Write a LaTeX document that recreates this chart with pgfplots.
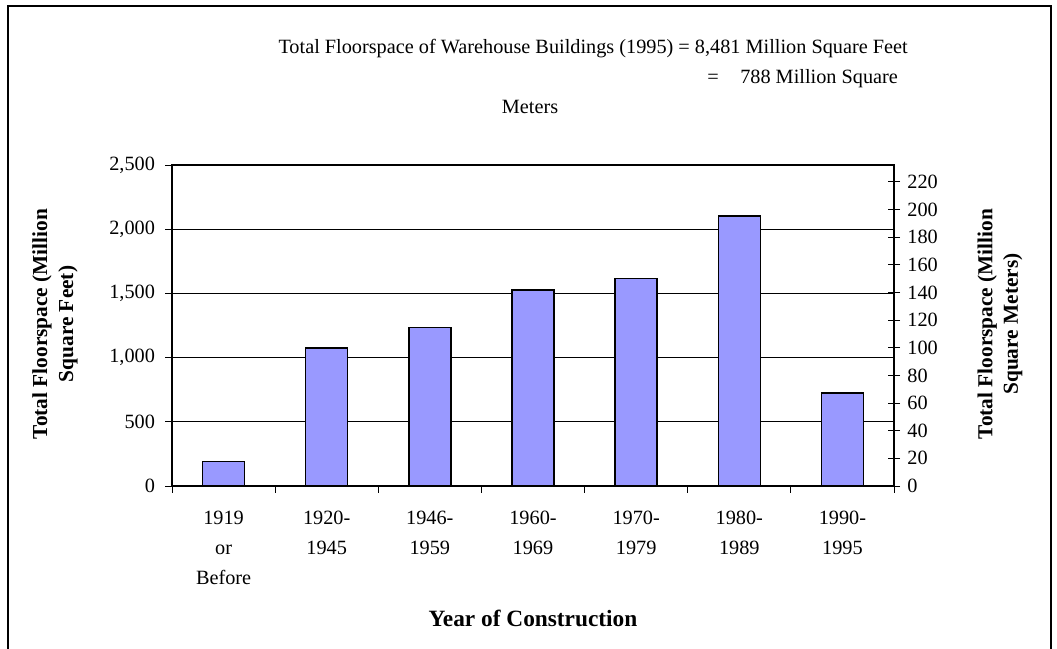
\documentclass[border=0pt]{standalone}
\usepackage{pgfplots}
\pgfplotsset{compat=1.18}
\usepackage{fontspec}
\setmainfont{Liberation Serif}
\definecolor{barblue}{HTML}{9999FF}
\begin{document}
\begin{tikzpicture}
\begin{scope}[x=0.75pt,y=0.75pt]
\useasboundingbox (0,0) rectangle (1057,649);
\draw[line width=0.9pt] (8,-10)--(8,643)--(1051,643)--(1051,-10);
\node[anchor=base east, font=\fontsize{15.2}{18}\selectfont, inner sep=0pt] at (908,595) {Total Floorspace of Warehouse Buildings (1995) = 8,481 Million Square Feet};
\node[anchor=base west, font=\fontsize{15.2}{18}\selectfont, inner sep=0pt] at (707,565) {=};
\node[anchor=base west, font=\fontsize{15.2}{18}\selectfont, inner sep=0pt] at (740,565) {788 Million Square};
\node[anchor=base, font=\fontsize{15.2}{18}\selectfont, inner sep=0pt] at (530,535) {Meters};
\node[rotate=90, align=center, font=\bfseries\fontsize{16}{19.5}\selectfont] at (55,325) {Total Floorspace (Million\\Square Feet)};
\node[rotate=90, align=center, font=\bfseries\fontsize{16}{19}\selectfont] at (1000,325) {Total Floorspace (Million\\Square Meters)};
\node[anchor=base, font=\bfseries\fontsize{17.5}{20}\selectfont] at (533,22) {Year of Construction};
\coordinate (O) at (172,163);
\end{scope}
\begin{axis}[at={(O)}, anchor=south west, scale only axis,
  width=541.5pt, height=240.75pt,
  ymin=0, ymax=2500, ytick={0,500,...,2500},
  xmin=-0.5, xmax=6.5,
  xtick={0,...,6},
  xticklabels={{1919\\or\\Before},{1920-\\1945},{1946-\\1959},{1960-\\1969},{1970-\\1979},{1980-\\1989},{1990-\\1995}},
  minor xtick={-0.5,0.5,...,6.5},
  major x tick style={draw=none},
  tick align=outside, major tick length=5.25pt, minor tick length=5.25pt,
  ymajorgrids, grid style={black, line width=0.6pt},
  axis line style={line width=0.8pt},
  tick style={black, line width=0.7pt},
  ytick pos=left, xtick pos=bottom,
  /pgf/number format/assume math mode=true,
  /pgf/number format/1000 sep={,},
  ticklabel style={font=\fontsize{15.2}{22.5}\selectfont},
  xticklabel style={align=center, anchor=north, yshift=-10pt},
  yticklabel style={xshift=-4pt},
  ybar, bar width=31.5pt,
]
\addplot[fill=barblue, draw=black, line width=1.1pt] coordinates {(0,190) (1,1076) (2,1234) (3,1526) (4,1614) (5,2104) (6,723)};
\end{axis}
\begin{axis}[at={(O)}, anchor=south west, scale only axis,
  width=541.5pt, height=240.75pt,
  ymin=0, ymax=232.26, ytick={0,20,...,220},
  xmin=-0.5, xmax=6.5,
  axis y line*=right, axis x line=none,
  tick align=center, major tick length=9pt,
  axis line style={line width=0.8pt},
  tick style={black, line width=0.7pt},
  /pgf/number format/assume math mode=true,
  ticklabel style={font=\fontsize{15.2}{17}\selectfont},
  yticklabel style={xshift=2pt},
]
\end{axis}
\end{tikzpicture}
\end{document}
